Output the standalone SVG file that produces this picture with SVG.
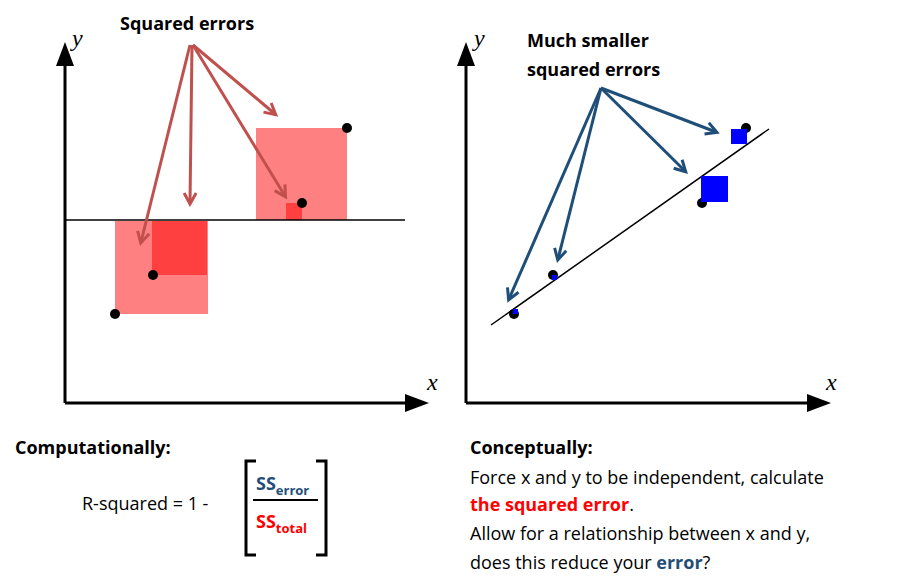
<svg xmlns="http://www.w3.org/2000/svg" width="903" height="584" viewBox="0 0 903 584">
<style>
text{font-family:"Open Sans","Liberation Sans",sans-serif;font-size:18px;fill:#000}
.b{font-weight:bold}
.ax{stroke:#000;stroke-width:3;fill:none}
.it{font-family:"Liberation Serif",serif;font-style:italic;font-size:24px}
.ra{stroke:#c0504d;stroke-width:3;fill:none}
.ba{stroke:#1f4e79;stroke-width:3;fill:none}
</style>
<defs>
<marker id="ah" markerWidth="10" markerHeight="10" refX="9" refY="5" orient="auto" markerUnits="userSpaceOnUse"><path d="M0,0 L10,5 L0,10" fill="none" stroke="#000" stroke-width="0"/></marker>
<marker id="ar" markerWidth="16" markerHeight="16" refX="12" refY="8" orient="auto" markerUnits="userSpaceOnUse"><path d="M2,2 L13,8 L2,14" fill="none" stroke="#c0504d" stroke-width="3"/></marker>
<marker id="ab" markerWidth="16" markerHeight="16" refX="12" refY="8" orient="auto" markerUnits="userSpaceOnUse"><path d="M2,2 L13,8 L2,14" fill="none" stroke="#1f4e79" stroke-width="3"/></marker>
</defs>
<g id="left-plot">
<rect x="115" y="221" width="93" height="93" fill="#ff8080"/>
<rect x="152" y="221" width="55" height="54" fill="#ff4040"/>
<rect x="256" y="128" width="91" height="92" fill="#ff8080"/>
<rect x="286" y="203" width="16" height="17" fill="#ff4040"/>
<line x1="65" y1="220" x2="405" y2="220" stroke="#000" stroke-width="1.5"/>
<line class="ax" x1="65" y1="403" x2="65" y2="62"/>
<path d="M56,66 L65,42 L74,66 Z"/>
<line class="ax" x1="65" y1="403" x2="410" y2="403"/>
<path d="M405,394 L429,403 L405,412 Z"/>
<circle cx="115" cy="314" r="5"/><circle cx="153" cy="275" r="5"/>
<circle cx="347" cy="128" r="5"/><circle cx="302" cy="203" r="5"/>
<text class="it" x="72" y="46">y</text>
<text class="it" x="427" y="390">x</text>
<text class="b" x="120" y="30">Squared errors</text>
</g>
<g id="right-plot">
<line x1="491" y1="325" x2="769" y2="129" stroke="#000" stroke-width="1.5"/>
<line class="ax" x1="466" y1="403" x2="466" y2="62"/>
<path d="M457,66 L466,42 L475,66 Z"/>
<line class="ax" x1="466" y1="403" x2="812" y2="403"/>
<path d="M807,394 L831,403 L807,412 Z"/>
<circle cx="514" cy="314" r="5"/><circle cx="553" cy="275" r="5"/>
<circle cx="702" cy="203" r="5"/><circle cx="746" cy="128" r="5"/>
<rect x="513" y="309" width="5" height="5" fill="#00f"/>
<rect x="552" y="275" width="5" height="5" fill="#00f"/>
<rect x="701" y="176" width="27" height="26" fill="#00f"/>
<rect x="731" y="129" width="16" height="15" fill="#00f"/>
<text class="it" x="474" y="46">y</text>
<text class="it" x="826" y="390">x</text>
<text class="b" x="527" y="47">Much smaller</text>
<text class="b" x="527" y="76">squared errors</text>
</g>
<g id="connectors">
<line class="ra" x1="190" y1="45" x2="141" y2="242" marker-end="url(#ar)"/>
<line class="ra" x1="192" y1="45" x2="190" y2="203" marker-end="url(#ar)"/>
<line class="ra" x1="193" y1="45" x2="275" y2="114" marker-end="url(#ar)"/>
<line class="ra" x1="193" y1="45" x2="285" y2="196" marker-end="url(#ar)"/>
<line class="ba" x1="601" y1="88" x2="509" y2="299" marker-end="url(#ab)"/>
<line class="ba" x1="601" y1="88" x2="558" y2="259" marker-end="url(#ab)"/>
<line class="ba" x1="601" y1="88" x2="685" y2="171" marker-end="url(#ab)"/>
<line class="ba" x1="601" y1="88" x2="716" y2="132" marker-end="url(#ab)"/>
</g>
<g id="computational">
<text class="b" x="15" y="454">Computationally:</text>
<text x="82" y="510">R-squared = 1 -</text>
<path d="M256,461 L246,461 L246,555 L256,555 M316,461 L326,461 L326,555 L316,555" fill="none" stroke="#000" stroke-width="3"/>
<line x1="253" y1="500" x2="318" y2="500" stroke="#000" stroke-width="2"/>
<text class="b" x="256" y="490" fill="#1f4e79" style="fill:#1f4e79">SS<tspan font-size="13" dy="5">error</tspan></text>
<text class="b" x="256" y="528" style="fill:#f00">SS<tspan font-size="13" dy="5">total</tspan></text>
</g>
<g id="conceptual">
<text class="b" x="470" y="454">Conceptually:</text>
<text x="470" y="484">Force x and y to be independent, calculate</text>
<text x="470" y="511"><tspan class="b" style="fill:#f00">the squared error</tspan>.</text>
<text x="470" y="540">Allow for a relationship between x and y,</text>
<text x="470" y="569">does this reduce your <tspan class="b" style="fill:#1f4e79">error</tspan>?</text>
</g>
</svg>
